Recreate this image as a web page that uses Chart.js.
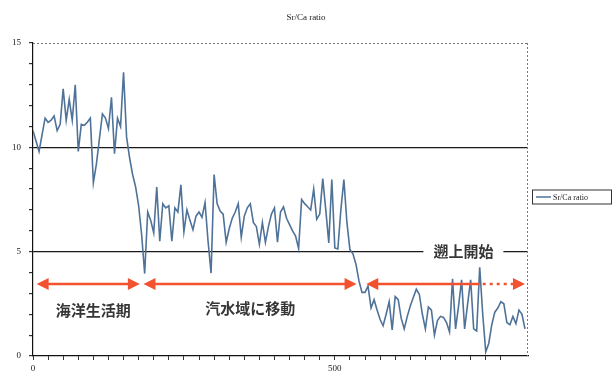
<!DOCTYPE html>
<html>
<head>
<meta charset="utf-8">
<title>Sr/Ca ratio</title>
<script src="https://cdn.jsdelivr.net/npm/chart.js@4"></script>
<style>
  html, body { margin: 0; padding: 0; background: #fff; }
</style>
</head>
<body>
<canvas id="srca" width="613" height="372"></canvas>
<script>
// ==== Data ====
const seriesName = 'Sr/Ca ratio';
const stepUm = 5; // spacing between measurement spots along the transect

const srca = [
  10.8, 10.3, 9.8, 10.6, 11.4, 11.2, 11.3, 11.5, 10.8, 11.1,
  12.8, 11.3, 12.3, 11.3, 13.0, 9.8, 11.1, 11.05, 11.2, 11.4,
  8.3, 9.2, 10.4, 11.6, 11.4, 10.9, 12.4, 9.7, 11.4, 11.0,
  13.6, 10.5, 9.5, 8.7, 8.1, 7.2, 5.8, 3.95, 6.9, 6.5,
  5.9, 8.1, 5.5, 7.3, 7.1, 7.2, 5.5, 7.1, 6.9, 8.2,
  5.95, 7.0, 6.5, 6.05, 6.7, 6.9, 6.65, 7.35, 5.5, 3.97,
  8.7, 7.3, 6.95, 6.8, 5.45, 6.1, 6.6, 6.9, 7.3, 5.7,
  6.7, 7.1, 7.3, 6.4, 6.2, 5.35, 6.4, 5.45, 6.2, 6.8,
  7.1, 5.45, 6.9, 7.15, 6.6, 6.3, 6.0, 5.75, 5.15, 7.5,
  7.3, 7.15, 7.0, 8.0, 6.55, 6.8, 8.5, 7.0, 5.42, 8.46,
  5.18, 5.13, 7.0, 8.46, 6.4, 5.1, 4.9, 4.4, 3.6, 3.05,
  3.05, 3.35, 2.3, 2.7, 2.2, 1.75, 1.45, 2.0, 2.6, 1.25,
  2.85, 2.7, 1.8, 1.3, 1.9, 2.4, 2.8, 3.2, 2.95, 2.0,
  1.3, 2.35, 2.2, 1.0, 1.7, 1.9, 1.85, 1.6, 1.15, 3.7,
  1.3, 2.4, 3.65, 1.3, 2.5, 3.65, 1.3, 1.2, 4.25, 2.0,
  0.2, 0.6, 1.5, 2.1, 2.3, 2.6, 2.5, 1.6, 1.5, 1.9,
  1.55, 2.2, 2.0, 1.3
];

const xTickLabels = [0, 500];
const yTickLabels = [0, 5, 10, 15];

// life history phases (transect distance)
const phaseNames = ['海洋生活期', '汽水域に移動', '遡上開始'];
const phaseFrom = [6, 183, 552];
const phaseTo = [177, 536, 815];
const phaseSolidTo = 740;   // beyond this the last arrow is dotted

const points = srca.map((v, i) => ({ x: i * stepUm, y: v }));

const serif = 'Liberation Serif';
const jp = '"Noto Sans CJK JP"';
const red = '#f2522f';

function arrowHead(ctx, tipX, yy, dir) {
  ctx.beginPath();
  ctx.moveTo(tipX, yy);
  ctx.lineTo(tipX - dir * 12, yy - 6);
  ctx.lineTo(tipX - dir * 12, yy + 6);
  ctx.closePath();
  ctx.fill();
}

// ==== annotations, borders, legend ====
const overlay = {
  id: 'overlay',
  afterDatasetsDraw(chart) {
    const { ctx, chartArea: a, scales: { x, y } } = chart;
    ctx.save();

    // dotted frame on top and right
    ctx.strokeStyle = '#777';
    ctx.lineWidth = 1;
    ctx.setLineDash([2, 2]);
    ctx.beginPath();
    ctx.moveTo(a.left, a.top + 0.5); ctx.lineTo(a.right, a.top + 0.5);
    ctx.moveTo(a.right - 0.5, a.top); ctx.lineTo(a.right - 0.5, a.bottom);
    ctx.stroke();
    ctx.setLineDash([]);

    // phase arrows
    const ay = y.getPixelForValue(3.45);
    ctx.strokeStyle = red;
    ctx.fillStyle = red;
    ctx.lineWidth = 2.6;
    for (let i = 0; i < 3; i++) {
      const x0 = x.getPixelForValue(phaseFrom[i]);
      const x1 = x.getPixelForValue(phaseTo[i]);
      const solidEnd = i === 2 ? x.getPixelForValue(phaseSolidTo) : x1 - 10;
      ctx.beginPath();
      ctx.moveTo(x0 + 10, ay); ctx.lineTo(solidEnd, ay);
      ctx.stroke();
      if (i === 2) {
        ctx.setLineDash([3, 4]);
        ctx.beginPath();
        ctx.moveTo(solidEnd + 3, ay); ctx.lineTo(x1 - 10, ay);
        ctx.stroke();
        ctx.setLineDash([]);
      }
      arrowHead(ctx, x0, ay, -1);
      arrowHead(ctx, x1, ay, 1);
    }

    // phase labels
    ctx.fillStyle = '#363636';
    ctx.font = 'bold 15px ' + jp;
    ctx.textAlign = 'center';
    ctx.textBaseline = 'middle';
    ctx.fillText(phaseNames[0], x.getPixelForValue(100), y.getPixelForValue(2.2));
    ctx.fillText(phaseNames[1], x.getPixelForValue(360), y.getPixelForValue(2.3));

    const tx = x.getPixelForValue(713), ty = y.getPixelForValue(5);
    const tw = ctx.measureText(phaseNames[2]).width + 20;
    ctx.fillStyle = '#fff';
    ctx.fillRect(tx - tw / 2, ty - 9, tw, 18);
    ctx.fillStyle = '#363636';
    ctx.fillText(phaseNames[2], tx, ty);

    // title
    ctx.fillStyle = '#222';
    ctx.font = '9px ' + serif;
    ctx.fillText(seriesName, 306, 18);

    // legend
    const lx = a.right + 4, ly = (a.top + a.bottom) / 2 - 10;
    ctx.strokeStyle = '#333';
    ctx.lineWidth = 1;
    ctx.strokeRect(lx + 0.5, ly + 0.5, 79, 14);
    ctx.strokeStyle = '#4f7298';
    ctx.lineWidth = 1.5;
    ctx.beginPath();
    ctx.moveTo(lx + 4, ly + 7.5); ctx.lineTo(lx + 19, ly + 7.5);
    ctx.stroke();
    ctx.fillStyle = '#222';
    ctx.textAlign = 'left';
    ctx.font = '8px ' + serif;
    ctx.fillText(seriesName, lx + 21, ly + 8);

    ctx.restore();
  }
};

new Chart(document.getElementById('srca'), {
  type: 'line',
  data: {
    datasets: [{
      label: seriesName,
      data: points,
      borderColor: '#4f7298',
      borderWidth: 1.6,
      pointRadius: 0,
      tension: 0,
      fill: false
    }]
  },
  options: {
    responsive: false,
    animation: false,
    devicePixelRatio: 1,
    layout: { padding: { top: 43, right: 85, left: 0, bottom: 0 } },
    plugins: { legend: { display: false }, title: { display: false }, tooltip: { enabled: false } },
    scales: {
      x: {
        type: 'linear', min: 0, max: 820,
        afterBuildTicks: s => { s.ticks = s.ticks.filter(t => t.value % 25 === 0); },
        afterFit: s => { s.height = 16; },
        ticks: {
          stepSize: 25, autoSkip: false, maxRotation: 0, padding: 3,
          color: '#222', font: { family: serif, size: 9 },
          callback: v => xTickLabels.includes(v) ? String(v) : ''
        },
        grid: { drawOnChartArea: false, tickColor: '#333', tickLength: 4 },
        border: { color: '#111', width: 1.2 }
      },
      y: {
        min: 0, max: 15,
        afterFit: s => { s.width = 33; },
        ticks: {
          stepSize: 1, autoSkip: false, padding: 8,
          color: '#222', font: { family: serif, size: 9 },
          callback: v => yTickLabels.includes(v) ? String(v) : ''
        },
        grid: {
          color: c => (c.tick && c.tick.value % 5 === 0 && c.tick.value > 0 && c.tick.value < 15) ? '#1a1a1a' : 'rgba(0,0,0,0)',
          tickColor: '#333', tickLength: 4, lineWidth: 1.2
        },
        border: { color: '#111', width: 1.2 }
      }
    }
  },
  plugins: [overlay]
});
</script>
</body>
</html>
